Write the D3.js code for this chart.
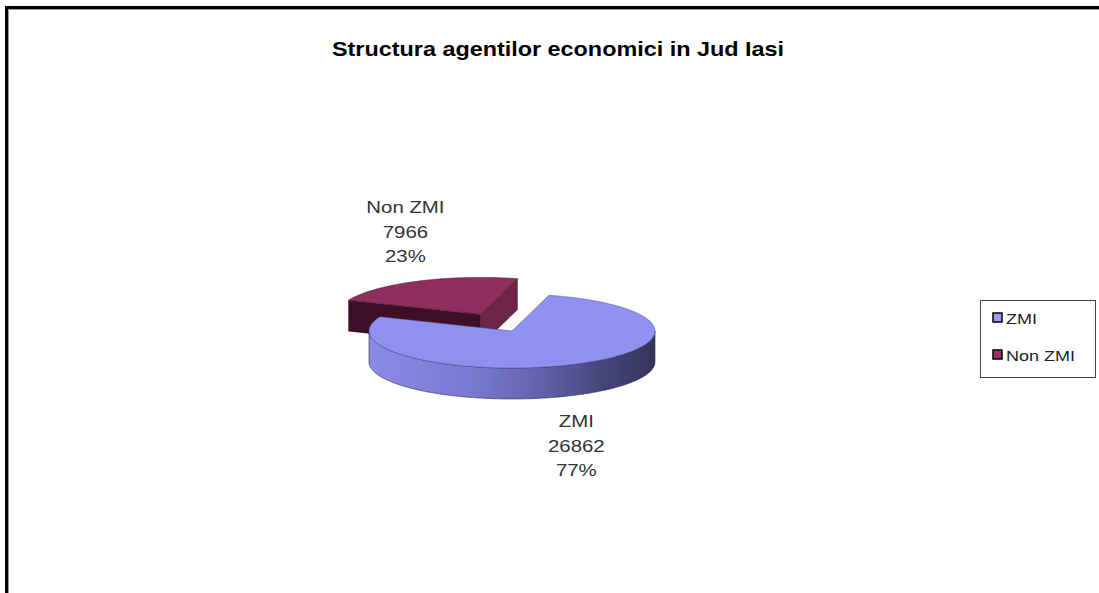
<!DOCTYPE html>
<html>
<head>
<meta charset="utf-8">
<script src="https://cdn.jsdelivr.net/npm/d3@7"></script>
<style>
  body { margin: 0; background: #fff; }
  text { font-family: "Liberation Sans", Arial, sans-serif; }
</style>
</head>
<body>
<svg width="1099" height="593"></svg>
<script>
// chart data
var categories = ["ZMI", "Non ZMI"];
var values = [26862, 7966];
var percents = ["77%", "23%"];
var title = "Structura agentilor economici in Jud Iasi";

var width = 1099, height = 593;
var svg = d3.select("svg");

// colours: top face, wall, radial faces
var topColor = ["#9090f0", "#8f2d5c"];
var legendColor = ["#9999ff", "#993366"];
var faceDark = ["#3a3a66", "#3f0f27"];
var faceLight = ["#5a5aa0", "#6d2446"];

// pie geometry (ellipse, depth, rotation of first slice)
var cx = 512, cy = 331, rx = 143, ry = 37, depth = 31;
var rotation = 15 * Math.PI / 180;
var explode = [0, 0.5];
var sx = 1.2; // the picture's text is stretched horizontally

// frame round the chart
svg.append("path")
    .attr("d", "M6.5,593V7.5H1099")
    .attr("fill", "none").attr("stroke", "#000").attr("stroke-width", 3);
svg.append("path")
    .attr("d", "M8.5,593V9.5H1099")
    .attr("fill", "none").attr("stroke", "#999").attr("stroke-width", 1);

// title
svg.append("text")
    .attr("transform", "translate(558,56) scale(" + sx + ",1)")
    .attr("text-anchor", "middle")
    .attr("font-size", 19.5).attr("font-weight", "bold")
    .attr("fill", "#000")
    .text(title);

var pie = d3.pie().sort(null)
    .startAngle(rotation).endAngle(rotation + 2 * Math.PI);
var arcs = pie(values);

function rim(a, ox, oy, dz) {
    return [cx + ox + rx * Math.sin(a), cy + oy - ry * Math.cos(a) + (dz || 0)];
}
function arcPoints(a0, a1, ox, oy, dz) {
    var n = Math.max(2, Math.ceil(Math.abs(a1 - a0) / 0.02));
    return d3.range(n + 1).map(function(i) {
        return rim(a0 + (a1 - a0) * i / n, ox, oy, dz);
    });
}
var line = d3.line();

// wall gradient
var defs = svg.append("defs");
var grad = defs.append("linearGradient")
    .attr("id", "wall0").attr("gradientUnits", "userSpaceOnUse")
    .attr("x1", cx - rx).attr("x2", cx + rx).attr("y1", 0).attr("y2", 0);
[[0, "#8c8ce8"], [0.35, "#7a7ad2"], [0.6, "#6262aa"], [0.82, "#45457a"], [1, "#34345a"]]
    .forEach(function(s) {
        grad.append("stop").attr("offset", s[0]).attr("stop-color", s[1]);
    });

// draw back (exploded) slice first, then the big one
var order = [1, 0];
order.forEach(function(i) {
    var d = arcs[i];
    var mid = (d.startAngle + d.endAngle) / 2;
    var ox = explode[i] * rx * Math.sin(mid);
    var oy = -explode[i] * ry * Math.cos(mid);
    var apex = [cx + ox, cy + oy];
    var g = svg.append("g");

    // radial faces
    [[d.startAngle, d.startAngle - Math.PI / 2, faceDark[i]],
     [d.endAngle, d.endAngle + Math.PI / 2, faceLight[i]]].forEach(function(f) {
        if (Math.cos(f[1]) < 0) {
            var p = rim(f[0], ox, oy);
            var pts = [apex, p, [p[0], p[1] + depth], [apex[0], apex[1] + depth]];
            g.append("path").attr("d", line(pts) + "Z")
                .attr("fill", f[2]).attr("stroke", "#1a0a14").attr("stroke-width", 0.6)
                .attr("stroke-opacity", 0.6);
        }
    });

    // outer wall, front half only
    var a0 = Math.max(d.startAngle, Math.PI / 2);
    var a1 = Math.min(d.endAngle, 3 * Math.PI / 2);
    if (a1 > a0) {
        var top = arcPoints(a0, a1, ox, oy, 0);
        var bot = arcPoints(a1, a0, ox, oy, depth);
        g.append("path").attr("d", line(top.concat(bot)) + "Z")
            .attr("fill", i === 0 ? "url(#wall0)" : faceDark[i])
            .attr("stroke", "#22223a").attr("stroke-width", 0.8).attr("stroke-opacity", 0.7);
    }

    // top face
    var pts = [apex].concat(arcPoints(d.startAngle, d.endAngle, ox, oy, 0));
    g.append("path").attr("d", line(pts) + "Z")
        .attr("fill", topColor[i])
        .attr("stroke", i === 0 ? "#4a4a8a" : "#4a1530")
        .attr("stroke-width", 0.7).attr("stroke-opacity", 0.7);

    // data label
    var front = Math.cos(mid) < 0;
    var lp = rim(mid, ox, oy, front ? depth : 0);
    var lx = cx + ox + rx * Math.sin(mid) * (front ? 1.02 : 1.19);
    var lines = [categories[i], String(values[i]), percents[i]];
    var y0 = front ? lp[1] + 32 : lp[1] - 19 - 2 * 24.5;
    var t = svg.append("text")
        .attr("transform", "translate(" + lx + "," + y0 + ") scale(" + sx + ",1)")
        .attr("text-anchor", "middle").attr("font-size", 17).attr("fill", "#333");
    lines.forEach(function(s, k) {
        t.append("tspan").attr("x", 0).attr("y", k * 24.5).text(s);
    });
});

// legend
var legend = svg.append("g").attr("transform", "translate(980,300)");
legend.append("rect")
    .attr("x", 0.5).attr("y", 0.5).attr("width", 115).attr("height", 77)
    .attr("fill", "#fff").attr("stroke", "#444").attr("stroke-width", 1);
categories.forEach(function(c, i) {
    var y = 13 + i * 37;
    legend.append("rect")
        .attr("x", 13).attr("y", y).attr("width", 9).attr("height", 9)
        .attr("fill", legendColor[i]).attr("stroke", "#000").attr("stroke-width", 1.5);
    legend.append("text")
        .attr("transform", "translate(26," + (y + 10.5) + ") scale(" + sx + ",1)")
        .attr("font-size", 15).attr("fill", "#222")
        .text(c);
});
</script>
</body>
</html>
